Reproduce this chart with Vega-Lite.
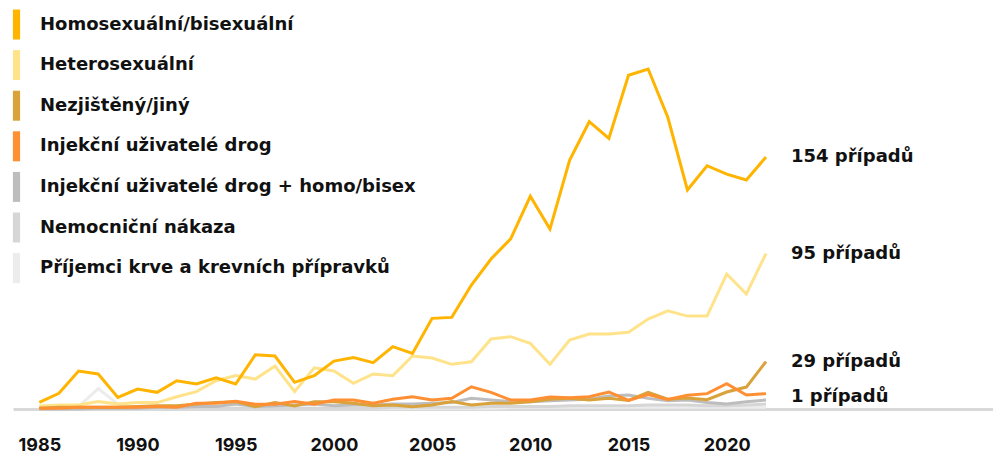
{
  "$schema": "https://vega.github.io/schema/vega-lite/v6.json",
  "width": 980,
  "height": 409,
  "autosize": {"type": "none"},
  "padding": {"left": 13, "top": 0, "right": 0, "bottom": 44},
  "background": "white",
  "config": {"view": {"stroke": null}, "font": "Inter"},
  "datasets": {
    "cases": [
      {"year": 1985, "homo": 4, "hetero": 1.8, "nezj": 0.5, "idu": 0.5, "iduhomo": 0, "nemoc": 0, "krev": 0.5},
      {"year": 1986, "homo": 9.6, "hetero": 2.5, "nezj": 1, "idu": 0.5, "iduhomo": 0, "nemoc": 0.5, "krev": 1},
      {"year": 1987, "homo": 23.2, "hetero": 2.4, "nezj": 1, "idu": 1, "iduhomo": 0, "nemoc": 0.5, "krev": 1.5},
      {"year": 1988, "homo": 21.4, "hetero": 4.5, "nezj": 1, "idu": 1, "iduhomo": 0.5, "nemoc": 0.5, "krev": 12.5},
      {"year": 1989, "homo": 7.1, "hetero": 3, "nezj": 1, "idu": 1, "iduhomo": 0.5, "nemoc": 0.5, "krev": 3},
      {"year": 1990, "homo": 12.2, "hetero": 3.9, "nezj": 1.5, "idu": 1, "iduhomo": 0.5, "nemoc": 0.5, "krev": 1},
      {"year": 1991, "homo": 10.2, "hetero": 3.9, "nezj": 2, "idu": 1.5, "iduhomo": 1, "nemoc": 0.5, "krev": 0.5},
      {"year": 1992, "homo": 17.3, "hetero": 7.5, "nezj": 2, "idu": 1, "iduhomo": 1, "nemoc": 0.5, "krev": 0.5},
      {"year": 1993, "homo": 15.3, "hetero": 10.6, "nezj": 3, "idu": 3.5, "iduhomo": 1.5, "nemoc": 0.5, "krev": 0.5},
      {"year": 1994, "homo": 19.1, "hetero": 17.3, "nezj": 3.9, "idu": 3.5, "iduhomo": 1.5, "nemoc": 0.5, "krev": 0.5},
      {"year": 1995, "homo": 15.3, "hetero": 20.4, "nezj": 4.5, "idu": 4.8, "iduhomo": 3, "nemoc": 0.5, "krev": 0.5},
      {"year": 1996, "homo": 33.2, "hetero": 18.3, "nezj": 1.4, "idu": 2.9, "iduhomo": 1.5, "nemoc": 0.5, "krev": 0.5},
      {"year": 1997, "homo": 32.4, "hetero": 26.3, "nezj": 3.9, "idu": 2.9, "iduhomo": 2, "nemoc": 0.5, "krev": 0.5},
      {"year": 1998, "homo": 16.3, "hetero": 10.6, "nezj": 1.8, "idu": 4.5, "iduhomo": 2.5, "nemoc": 0.5, "krev": 0.5},
      {"year": 1999, "homo": 20.4, "hetero": 25.2, "nezj": 4.5, "idu": 2.9, "iduhomo": 3, "nemoc": 0.5, "krev": 0.5},
      {"year": 2000, "homo": 29.3, "hetero": 23.2, "nezj": 4.5, "idu": 5.5, "iduhomo": 2, "nemoc": 0.5, "krev": 0.5},
      {"year": 2001, "homo": 31.4, "hetero": 15.7, "nezj": 3.5, "idu": 5.5, "iduhomo": 2.5, "nemoc": 0.5, "krev": 0.5},
      {"year": 2002, "homo": 28.3, "hetero": 21.4, "nezj": 2, "idu": 3.5, "iduhomo": 2.5, "nemoc": 0.5, "krev": 0.5},
      {"year": 2003, "homo": 38.1, "hetero": 20.4, "nezj": 2.5, "idu": 5.9, "iduhomo": 3, "nemoc": 1, "krev": 0.5},
      {"year": 2004, "homo": 34, "hetero": 32.4, "nezj": 1.4, "idu": 7.5, "iduhomo": 3, "nemoc": 1, "krev": 0.5},
      {"year": 2005, "homo": 55.4, "hetero": 31.2, "nezj": 2.5, "idu": 5.5, "iduhomo": 3.5, "nemoc": 1, "krev": 0.5},
      {"year": 2006, "homo": 56, "hetero": 27.3, "nezj": 4.5, "idu": 6.5, "iduhomo": 4, "nemoc": 1, "krev": 0.5},
      {"year": 2007, "homo": 75.8, "hetero": 28.9, "nezj": 2.5, "idu": 13.6, "iduhomo": 6.5, "nemoc": 1, "krev": 0.5},
      {"year": 2008, "homo": 91.7, "hetero": 42.8, "nezj": 3.5, "idu": 10.2, "iduhomo": 5.5, "nemoc": 1.5, "krev": 0.5},
      {"year": 2009, "homo": 104, "hetero": 44.2, "nezj": 3.5, "idu": 5.5, "iduhomo": 4.5, "nemoc": 1.5, "krev": 1},
      {"year": 2010, "homo": 130, "hetero": 40.1, "nezj": 4.5, "idu": 5.5, "iduhomo": 4.5, "nemoc": 1.5, "krev": 1},
      {"year": 2011, "homo": 110, "hetero": 27.3, "nezj": 6, "idu": 7.3, "iduhomo": 5, "nemoc": 1.5, "krev": 1},
      {"year": 2012, "homo": 152, "hetero": 42.2, "nezj": 6.5, "idu": 6.9, "iduhomo": 5.5, "nemoc": 2, "krev": 1},
      {"year": 2013, "homo": 175.6, "hetero": 45.8, "nezj": 5.5, "idu": 7.5, "iduhomo": 6, "nemoc": 2, "krev": 1},
      {"year": 2014, "homo": 165.4, "hetero": 45.8, "nezj": 6.5, "idu": 10.4, "iduhomo": 8, "nemoc": 2, "krev": 1},
      {"year": 2015, "homo": 204, "hetero": 46.9, "nezj": 5.2, "idu": 5.3, "iduhomo": 8.5, "nemoc": 2, "krev": 1},
      {"year": 2016, "homo": 207.8, "hetero": 55, "nezj": 10.2, "idu": 8.8, "iduhomo": 6.5, "nemoc": 2.5, "krev": 1},
      {"year": 2017, "homo": 178.3, "hetero": 60, "nezj": 6, "idu": 5.9, "iduhomo": 5, "nemoc": 2.5, "krev": 1},
      {"year": 2018, "homo": 133.9, "hetero": 56.8, "nezj": 6.7, "idu": 8.4, "iduhomo": 5.5, "nemoc": 2.5, "krev": 1},
      {"year": 2019, "homo": 148.7, "hetero": 56.8, "nezj": 5.7, "idu": 9.4, "iduhomo": 4, "nemoc": 2, "krev": 1},
      {"year": 2020, "homo": 143.6, "hetero": 82.5, "nezj": 10.4, "idu": 15.5, "iduhomo": 3, "nemoc": 2, "krev": 1},
      {"year": 2021, "homo": 140, "hetero": 70.3, "nezj": 13.4, "idu": 8.6, "iduhomo": 4.5, "nemoc": 2.5, "krev": 1},
      {"year": 2022, "homo": 154, "hetero": 95, "nezj": 29, "idu": 9.4, "iduhomo": 5.5, "nemoc": 3, "krev": 1}
    ],
    "labels": [
      {"year": 2022, "value": 154, "label": "154 případů", "shift": "no"},
      {"year": 2022, "value": 95, "label": "95 případů", "shift": "no"},
      {"year": 2022, "value": 29, "label": "29 případů", "shift": "no"},
      {"year": 2022, "value": 1, "label": "1 případů", "shift": "yes"}
    ]
  },
  "layer": [
    {
      "data": {"name": "cases"},
      "transform": [
        {"fold": ["krev", "nemoc", "iduhomo", "hetero", "nezj", "idu", "homo"], "as": ["grp", "value"]}
      ],
      "mark": {"type": "line", "strokeWidth": 3},
      "encoding": {
        "x": {
          "field": "year",
          "type": "quantitative",
          "scale": {"domain": [1983.661, 2033.558], "nice": false, "zero": false},
          "axis": {
            "values": [1985, 1990, 1995, 2000, 2005, 2010, 2015, 2020],
            "format": "d",
            "title": null,
            "grid": false,
            "ticks": false,
            "domainColor": "#D9D9D9",
            "domainWidth": 3,
            "labelFont": "Inter",
            "labelFontSize": 18,
            "labelFontWeight": 700,
            "labelColor": "#111111",
            "labelBaseline": "alphabetic",
            "labelPadding": 41
          }
        },
        "y": {
          "field": "value",
          "type": "quantitative",
          "scale": {"domain": [0, 250], "nice": false},
          "axis": null
        },
        "color": {
          "field": "grp",
          "type": "nominal",
          "scale": {
            "domain": ["homo", "hetero", "nezj", "idu", "iduhomo", "nemoc", "krev"],
            "range": ["#FFB400", "#FFE38A", "#D9A23A", "#FF8F33", "#BDBDBD", "#D6D6D6", "#ECECEC"]
          },
          "legend": {
            "title": null,
            "orient": "none",
            "legendX": -11.5,
            "legendY": 9.5,
            "padding": 0,
            "symbolType": "M-0.24,-1H0.24V1H-0.24Z",
            "symbolSize": 900,
            "symbolStrokeWidth": 0,
            "rowPadding": 10.6,
            "labelOffset": 8.5,
            "labelFont": "DejaVu Sans",
            "labelFontSize": 18,
            "labelFontWeight": 700,
            "labelColor": "#111111",
            "labelLimit": 600,
            "labelExpr": "{'homo':'Homosexuální/bisexuální','hetero':'Heterosexuální','nezj':'Nezjištěný/jiný','idu':'Injekční uživatelé drog','iduhomo':'Injekční uživatelé drog + homo/bisex','nemoc':'Nemocniční nákaza','krev':'Příjemci krve a krevních přípravků'}[datum.value]",
            "encode": {"symbols": {"update": {"fill": {"scale": "color", "field": "value"}, "fillOpacity": {"value": 1}, "strokeWidth": {"value": 0}}}}
          }
        }
      }
    },
    {
      "data": {"name": "labels"},
      "transform": [{"filter": "datum.shift == 'no'"}],
      "mark": {"type": "text", "align": "left", "baseline": "middle", "dx": 25, "font": "DejaVu Sans", "fontSize": 18, "fontWeight": 700, "color": "#111111"},
      "encoding": {
        "x": {"field": "year", "type": "quantitative"},
        "y": {"field": "value", "type": "quantitative"},
        "text": {"field": "label"}
      }
    },
    {
      "data": {"name": "labels"},
      "transform": [{"filter": "datum.shift == 'yes'"}],
      "mark": {"type": "text", "align": "left", "baseline": "middle", "dx": 25, "dy": -10, "font": "DejaVu Sans", "fontSize": 18, "fontWeight": 700, "color": "#111111"},
      "encoding": {
        "x": {"field": "year", "type": "quantitative"},
        "y": {"field": "value", "type": "quantitative"},
        "text": {"field": "label"}
      }
    }
  ]
}
